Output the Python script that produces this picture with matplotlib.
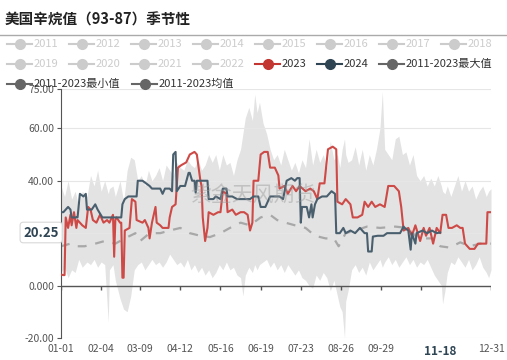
import matplotlib
matplotlib.use("Agg")
import matplotlib.pyplot as plt
from matplotlib.lines import Line2D

plt.rcParams['font.family'] = ['Noto Sans CJK SC', 'DejaVu Sans']

# ---- data (day of year index, value) ----
band_days = [0, 3, 6, 9, 12, 15, 18, 22, 25, 28, 31, 34, 37, 40, 41, 44, 46, 50, 53, 56,
             59, 62, 65, 68, 71, 74, 77, 80, 83, 86, 89, 92, 95, 98, 101, 104, 107, 110, 113, 116,
             119, 122, 125, 128, 131, 134, 137, 140, 143, 146, 149, 152, 154, 156, 159, 162, 164, 166, 168, 171,
             174, 177, 180, 183, 186, 189, 192, 195, 198, 201, 204, 207, 210, 213, 216, 219, 222, 225, 228, 231,
             234, 236, 238, 240, 241, 243, 246, 249, 252, 255, 258, 261, 264, 267, 270, 272, 274, 277, 280, 283,
             286, 289, 292, 295, 298, 301, 304, 307, 310, 313, 316, 319, 322, 323, 325, 327, 330, 333, 336, 339,
             342, 345, 348, 351, 354, 357, 360, 362, 364]
band_max = [38, 34, 40, 33, 36, 30, 36, 34, 42, 38, 44, 36, 40, 35, 37, 38, 34, 40, 32, 44,
            49, 48, 40, 42, 38, 44, 40, 42, 45, 40, 46, 44, 42, 47, 45, 44, 48, 46, 45, 48,
            44, 46, 50, 47, 50, 44, 50, 46, 47, 42, 48, 52, 58, 64, 68, 63, 73, 66, 70, 62,
            58, 52, 48, 50, 46, 52, 48, 44, 47, 43, 48, 45, 56, 46, 52, 47, 50, 45, 55, 48,
            50, 45, 52, 56, 50, 47, 48, 53, 46, 52, 44, 50, 46, 52, 60, 74, 52, 50, 48, 56,
            57, 50, 51, 46, 50, 42, 40, 42, 38, 41, 38, 42, 38, 36, 35, 38, 34, 38, 42, 36,
            40, 36, 38, 33, 36, 38, 34, 36, 37]
band_min = [5, 7, 3, 6, 5, 10, 7, 9, 8, 10, 7, 9, 8, -14, 6, 8, 2, -5, -9, -10,
            -4, 6, 8, 9, 6, 8, 10, 8, 9, 7, 9, 12, 10, 8, 9, 7, 10, 6, 8, 5,
            7, 4, 6, 3, 5, 8, 6, 9, 6, 7, 4, 3, -4, 4, 7, 5, 8, 6, 8, 9,
            10, 7, 9, 6, 8, 5, 8, 6, 4, 6, 3, 2, 0, -1, 4, 2, 5, 3, -2, 2,
            -4, -8, -10, -20, -6, -2, 6, 8, 5, 7, 4, 9, 6, 8, 10, 7, 9, 11, 8, 10,
            7, 9, 11, 8, 10, 7, 9, 8, 10, 7, 4, 2, 0, -7, -2, 5, 9, 8, 11, 9,
            7, 10, 6, 8, 11, 7, 5, 3, 6]

mean_days = [0, 8, 12, 20, 29, 37, 46, 54, 63, 67, 75, 84, 92, 101, 109, 118, 126, 135, 143, 152,
             160, 169, 177, 183, 190, 198, 207, 215, 224, 231, 235, 241, 249, 259, 270, 283, 293, 300, 308, 317,
             321, 329, 338, 346, 355, 364]
mean_vals = [15, 16, 15, 15, 16, 17, 16, 18, 20, 17, 20, 20, 21, 22, 20, 19, 18.5, 20, 22, 24,
             23, 26, 27, 25, 24, 23, 22, 19, 18, 18, 15, 20, 21, 22.5, 22, 22.5, 22, 19, 18, 18,
             15, 14.5, 16.5, 15, 16, 16]

y2023_days = [0, 2, 3, 4, 6, 8, 9, 11, 13, 14, 18, 21, 23, 25, 27, 30, 33, 36, 39, 41,
              44, 45, 46, 47, 50, 51, 52, 53, 54, 58, 60, 63, 64, 69, 71, 74, 75, 77, 80, 81,
              84, 86, 89, 91, 92, 94, 97, 99, 102, 106, 109, 113, 115, 118, 119, 120, 122, 124, 125, 129,
              133, 135, 137, 140, 141, 145, 148, 152, 155, 158, 160, 162, 163, 167, 169, 172, 175, 177, 181, 184,
              185, 189, 192, 196, 199, 202, 207, 211, 214, 217, 219, 223, 226, 230, 233, 234, 238, 241, 245, 247,
              251, 255, 257, 260, 263, 266, 270, 274, 277, 282, 286, 288, 290, 294, 297, 300, 302, 304, 307, 309,
              312, 315, 318, 321, 323, 326, 328, 331, 335, 338, 340, 342, 346, 350, 353, 356, 360, 361, 364]
y2023_vals = [4.2, 4, 4, 26, 22, 27, 23, 28, 22, 25, 23, 22, 30, 29, 25, 24, 27, 24, 25, 24,
              27, 11, 25, 26, 24, 24, 3, 3, 21, 22, 33, 32, 25, 24, 25, 22, 18, 24, 30, 24,
              23, 22, 22, 22, 26, 30, 31, 45, 46, 47, 50, 51, 50, 40, 38, 26, 17, 22, 28, 27,
              28, 28, 36, 35, 28, 29, 27, 28, 28, 27, 21, 24, 40, 40, 50, 51, 51, 45, 45, 42,
              37, 38, 35, 38, 36, 38, 36, 37, 36, 33, 39, 39, 52, 53, 52, 32, 31, 33, 31, 26,
              26, 27, 32, 30, 32, 30, 31, 30, 38, 38, 36, 30, 21, 22, 19, 23, 20, 17, 22, 19,
              22, 16, 22, 20, 27, 27, 22, 22, 23, 22, 22, 16, 14, 14, 16, 16, 16, 28, 28]

y2024_days = [0, 2, 4, 6, 8, 9, 13, 14, 16, 19, 21, 22, 26, 29, 31, 35, 40, 43, 48, 51,
              52, 54, 57, 61, 64, 65, 69, 72, 75, 77, 80, 84, 86, 88, 92, 94, 95, 97, 98, 101,
              105, 108, 109, 111, 113, 114, 115, 120, 124, 125, 129, 131, 135, 137, 140, 141, 145, 149, 154, 160,
              163, 167, 169, 173, 177, 181, 185, 188, 191, 195, 198, 200, 202, 203, 204, 208, 210, 212, 213, 215,
              217, 221, 225, 229, 232, 233, 236, 239, 241, 245, 249, 253, 257, 259, 260, 263, 264, 268, 273, 276,
              283, 287, 290, 291, 294, 296, 297, 300, 301, 306, 310, 314, 318, 321]
y2024_vals = [28, 28, 29, 30, 29, 26, 26, 26, 35, 34, 35, 29, 29, 31, 29, 26, 26, 26, 26, 26,
              31, 33, 34, 34, 34, 40, 40, 39, 38, 37, 37, 37, 35, 37, 37, 36, 50, 51, 36, 38,
              38, 43, 43, 40, 40, 35.5, 40, 40, 40, 33, 33, 34, 33, 37, 37, 34, 34, 33, 33, 33,
              34, 34, 30, 30, 34, 34, 34, 33, 40, 41, 40, 41, 41, 24, 30, 30, 26, 31, 26, 31,
              33, 34, 34, 36, 35, 20, 20, 22, 20, 21, 20, 22, 20, 20, 13, 13, 18.7, 19, 19, 20,
              20, 20, 22.5, 22, 21, 13.7, 20, 16, 20, 21, 20, 21, 20, 20.25]

last_value = y2024_vals[-1]

xtick_days = [0, 34, 67, 101, 135, 169, 203, 237, 271, 305, 364]
xtick_labels = ['01-01', '02-04', '03-09', '04-12', '05-16', '06-19', '07-23', '08-26', '09-29', '', '12-31']
current_day = 321
current_label = '11-18'
ytick_vals = [-20, 0, 20, 40, 60, 75]
ytick_labels = ['-20.00', '0.000', '', '40.00', '60.00', '75.00']

legend_rows = [
    [('2011', '#cccccc', '#cccccc'), ('2012', '#cccccc', '#cccccc'), ('2013', '#cccccc', '#cccccc'),
     ('2014', '#cccccc', '#cccccc'), ('2015', '#cccccc', '#cccccc'), ('2016', '#cccccc', '#cccccc'),
     ('2017', '#cccccc', '#cccccc'), ('2018', '#cccccc', '#cccccc')],
    [('2019', '#cccccc', '#cccccc'), ('2020', '#cccccc', '#cccccc'), ('2021', '#cccccc', '#cccccc'),
     ('2022', '#cccccc', '#cccccc'), ('2023', '#c23531', '#333333'), ('2024', '#2f4554', '#333333'),
     ('2011-2023最大值', '#666666', '#333333')],
    [('2011-2023最小值', '#666666', '#333333'), ('2011-2023均值', '#666666', '#333333')],
]

W, H = 507, 360
fig = plt.figure(figsize=(W / 100, H / 100), dpi=100)
ax = fig.add_axes([61 / W, 22 / H, 430 / W, 249 / H])

ax.fill_between(band_days, band_min, band_max, color='#e3e3e3', linewidth=0, zorder=1)
ax.plot(mean_days, mean_vals, color='#a8a8a8', linewidth=1.6, dashes=(4, 4), zorder=2)
ax.plot(y2023_days, y2023_vals, color='#cd4a47', linewidth=1.5, zorder=3)
ax.plot(y2024_days, y2024_vals, color='#4a5f6e', linewidth=1.5, zorder=4)

ax.set_xlim(0, 364)
ax.set_ylim(-20, 75)
ax.set_yticks(ytick_vals)
ax.set_yticklabels(ytick_labels)
ax.set_xticks(xtick_days)
ax.set_xticklabels(xtick_labels)
ax.tick_params(axis='x', length=0, labelsize=7.5, labelcolor='#555555', pad=4)
ax.tick_params(axis='y', length=3, color='#555555', labelsize=7.5, labelcolor='#555555', pad=2)
ax.grid(axis='y', color='#e6e6e6', linewidth=0.8, zorder=0)
for s in ['top', 'right', 'bottom']:
    ax.spines[s].set_visible(False)
ax.spines['left'].set_color('#555555')
ax.axhline(0, color='#555555', linewidth=1, zorder=5)
ax.vlines(xtick_days, -1.6, 0, color='#555555', linewidth=1, zorder=5)

# highlighted current date and last value
ax.text(current_day, -22.8, current_label, ha='center', va='top',
        fontsize=8.5, fontweight='bold', color='#2f4554', clip_on=False)
ax.text(-1.8, last_value, f'{last_value:.2f}', ha='right', va='center', fontsize=9.5,
        fontweight='bold', color='#2f4554', clip_on=False,
        bbox=dict(boxstyle='round,pad=0.25', fc='white', ec='#d8d8d8', lw=0.8))

# watermark
fig.text(253 / W, 1 - 195 / H, '紫金天风期货', ha='center', va='center', fontsize=15,
         color='#999999', alpha=0.45)

# title
fig.text(5 / W, 1 - 20 / H, '美国辛烷值（93-87）季节性', ha='left', va='center',
         fontsize=10.5, fontweight='bold', color='#222222')
fig.add_artist(Line2D([0, 1], [1 - 34.5 / H, 1 - 34.5 / H], color='#aaaaaa', linewidth=1))

# legend
row_y = [44, 64, 84]
for r, items in enumerate(legend_rows):
    y = 1 - row_y[r] / H
    x = 7
    for name, mc, tc in items:
        fig.add_artist(Line2D([x / W, (x + 25) / W], [y, y], color=mc, linewidth=1.5))
        fig.add_artist(Line2D([(x + 12.5) / W], [y], marker='o', markersize=7, color=mc))
        fig.text((x + 27) / W, y, name, ha='left', va='center', fontsize=8, color=tc)
        if len(name) > 4:
            x += 125
        else:
            x += 62

fig.savefig('out.png', dpi=100)
